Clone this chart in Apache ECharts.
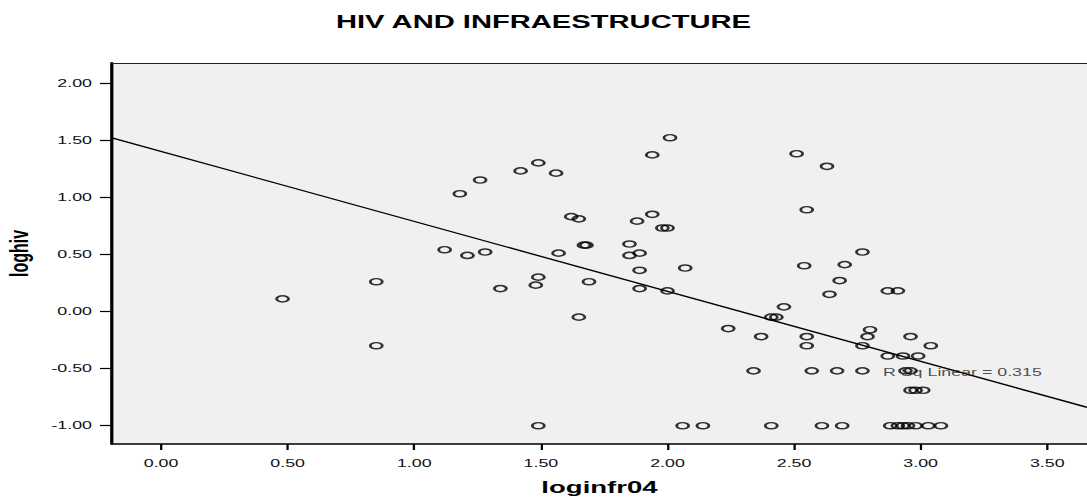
<!DOCTYPE html>
<html>
<head>
<meta charset="utf-8">
<script src="https://cdn.jsdelivr.net/npm/echarts@6/dist/echarts.min.js"></script>
<style>
  html, body { margin: 0; padding: 0; background: #ffffff; overflow: hidden; width: 1087px; height: 501px; }
  #wrap { position: absolute; left: 0; top: 0; width: 671px; height: 501px; transform: scaleX(1.62); transform-origin: 0 0; }
</style>
</head>
<body>
<div id="wrap"></div>
<script>
// ---- data ----
const chartTitle = 'HIV AND INFRAESTRUCTURE';
const xName = 'loginfr04';
const yName = 'loghiv';
const xTicks = [0, 0.5, 1.0, 1.5, 2.0, 2.5, 3.0, 3.5];
const yTicks = [-1.0, -0.5, 0.0, 0.5, 1.0, 1.5, 2.0];
const xRange = [-0.194, 3.657];
const yRange = [-1.16, 2.174];

const loginfr04 = [
  0.48, 0.85, 0.85, 1.12, 1.18, 1.21, 1.26, 1.28, 1.34, 1.42,
  1.48, 1.49, 1.49, 1.49, 1.56, 1.57, 1.62, 1.65, 1.65, 1.67,
  1.68, 1.69, 1.85, 1.85, 1.88, 1.89, 1.89, 1.89, 1.94, 1.94,
  1.98, 2.00, 2.00, 2.01, 2.06, 2.07, 2.14, 2.24, 2.34, 2.37,
  2.41, 2.41, 2.43, 2.46, 2.51, 2.54, 2.55, 2.55, 2.55, 2.57,
  2.61, 2.63, 2.64, 2.67, 2.68, 2.69, 2.70, 2.77, 2.77, 2.77,
  2.79, 2.80, 2.87, 2.87, 2.88, 2.91, 2.91, 2.93, 2.93, 2.94,
  2.95, 2.96, 2.96, 2.96, 2.98, 2.98, 2.99, 3.01, 3.03, 3.04,
  3.08
];
const loghiv = [
  0.11, 0.26, -0.30, 0.54, 1.03, 0.49, 1.15, 0.52, 0.20, 1.23,
  0.23, 1.30, 0.30, -1.00, 1.21, 0.51, 0.83, 0.81, -0.05, 0.58,
  0.58, 0.26, 0.59, 0.49, 0.79, 0.51, 0.36, 0.20, 0.85, 1.37,
  0.73, 0.73, 0.18, 1.52, -1.00, 0.38, -1.00, -0.15, -0.52, -0.22,
  -0.05, -1.00, -0.05, 0.04, 1.38, 0.40, -0.22, -0.30, 0.89, -0.52,
  -1.00, 1.27, 0.15, -0.52, 0.27, -1.00, 0.41, 0.52, -0.30, -0.52,
  -0.22, -0.16, -0.39, 0.18, -1.00, -1.00, 0.18, -0.39, -1.00, -0.52,
  -1.00, -0.52, -0.22, -0.69, -0.69, -1.00, -0.39, -0.69, -1.00, -0.30,
  -1.00
];
// fit line end points (read at the plot edges)
const fitX = [-0.194, 3.657];
const fitY = [1.519, -0.839];
const rsqText = 'R Sq Linear = 0.315';
const rsqAnchor = [2.851, -0.531];

// ---- chart ----
const FONT = '"Liberation Sans", Arial, Helvetica, sans-serif';
const points = loginfr04.map((x, i) => [x, loghiv[i]]);
const fitLine = fitX.map((x, i) => [x, fitY[i]]);

const chart = echarts.init(document.getElementById('wrap'), null, { renderer: 'svg' });
chart.setOption({
  animation: false,
  backgroundColor: '#ffffff',
  title: {
    text: chartTitle,
    left: 'center',
    top: 8,
    textStyle: { fontFamily: FONT, fontSize: 18, fontWeight: 'bold', color: '#000' }
  },
  grid: {
    left: 69.1, right: 0, top: 63, bottom: 57,
    show: true,
    backgroundColor: '#f0f0f0',
    borderWidth: 0,
    outerBoundsMode: 'none'
  },
  xAxis: [
    {
      type: 'value',
      min: xRange[0], max: xRange[1],
      name: xName,
      nameLocation: 'middle',
      nameGap: 35,
      nameTextStyle: { fontFamily: FONT, fontSize: 17, fontWeight: 'bold', color: '#000' },
      axisLine: { show: true, onZero: false, lineStyle: { color: '#000', width: 1.6 } },
      axisTick: { show: true, length: 6, customValues: xTicks, lineStyle: { color: '#000', width: 1.4 } },
      axisLabel: { customValues: xTicks, margin: 14, fontFamily: FONT, fontSize: 11, color: '#111',
        formatter: v => v.toFixed(2) },
      splitLine: { show: false }
    },
    {
      type: 'value',
      position: 'top',
      min: xRange[0], max: xRange[1],
      axisLine: { show: true, onZero: false, lineStyle: { color: '#222', width: 1 } },
      axisTick: { show: false },
      axisLabel: { show: false },
      splitLine: { show: false }
    }
  ],
  yAxis: {
    type: 'value',
    min: yRange[0], max: yRange[1],
    name: yName,
    nameLocation: 'middle',
    nameGap: 49,
    nameTextStyle: { fontFamily: FONT, fontSize: 16, fontWeight: 'bold', color: '#000' },
    axisLine: { show: true, onZero: false, lineStyle: { color: '#000', width: 2 } },
    axisTick: { show: true, length: 7.4, customValues: yTicks, lineStyle: { color: '#000', width: 1.2 } },
    axisLabel: { customValues: yTicks, margin: 12.3, fontFamily: FONT, fontSize: 11, color: '#111',
      formatter: v => v.toFixed(2) },
    splitLine: { show: false }
  },
  series: [
    {
      type: 'scatter',
      data: points,
      symbol: 'path://M0,1A1,1 0 1,0 2,1A1,1 0 1,0 0,1Z',
      symbolSize: [7.4, 6.2],
      itemStyle: { color: 'rgba(0,0,0,0)', borderColor: '#000', borderWidth: 1.6 },
      silent: true,
      z: 3
    },
    {
      type: 'line',
      data: fitLine,
      showSymbol: false,
      symbol: 'none',
      lineStyle: { color: '#000', width: 1.3 },
      silent: true,
      z: 2
    },
    {
      type: 'scatter',
      data: [rsqAnchor],
      symbolSize: 0,
      silent: true,
      label: {
        show: true,
        position: 'right',
        distance: 0,
        formatter: rsqText,
        fontFamily: FONT,
        fontSize: 11,
        color: '#222'
      },
      z: 4
    }
  ]
});
</script>
</body>
</html>
